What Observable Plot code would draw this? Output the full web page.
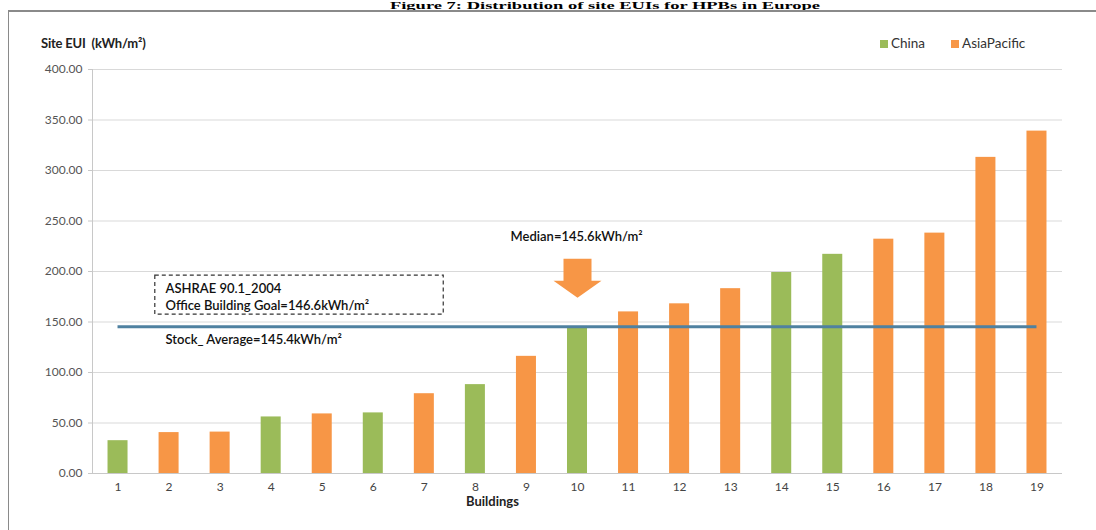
<!DOCTYPE html>
<html>
<head>
<meta charset="utf-8">
<script src="https://cdn.jsdelivr.net/npm/d3@7"></script>
<script src="https://cdn.jsdelivr.net/npm/@observablehq/plot@0.6"></script>
<style>
  html, body { margin: 0; padding: 0; background: #fff; overflow: hidden; }
  #wrap { position: relative; width: 1096px; height: 530px; overflow: hidden; font-family: Lato, "Open Sans", sans-serif; }
  #title { position: absolute; left: 0; width: 1210px; top: -5px; height: 16px; line-height: 16px; text-align: center; font-family: "Liberation Serif", "Times New Roman", serif; font-weight: bold; font-size: 18.5px; color: #000; white-space: nowrap; transform: scaleY(0.56); transform-origin: 50% 13.4px; }
  #frame { position: absolute; left: 8px; top: 10px; width: 1200px; height: 600px; border-left: 1.5px solid #8a8a8a; border-top: 2px solid #8a8a8a; }
  #ylabel { position: absolute; left: 41px; top: 35px; font-size: 13px; font-weight: bold; color: #222; letter-spacing: -0.2px; }
  #xlabel { position: absolute; left: 466px; top: 493px; font-size: 13px; font-weight: bold; color: #222; }
  #legend { position: absolute; left: 880px; top: 35px; font-size: 13.5px; color: #333; display: flex; gap: 26px; }
  #legend span.sw { display: inline-block; width: 8px; height: 8px; margin-right: 3px; vertical-align: 0px; }
  #chart { position: absolute; left: 0; top: 0; }
</style>
</head>
<body>
<div id="wrap">
  <div id="title">Figure 7: Distribution of site EUIs for HPBs in Europe</div>
  <div id="frame"></div>
  <div id="ylabel">Site EUI&nbsp; (kWh/m²)</div>
  <div id="legend"></div>
  <div id="xlabel">Buildings</div>
  <div id="chart"></div>
</div>
<script>
// ---- data ----
const buildings = [1, 2, 3, 4, 5, 6, 7, 8, 9, 10, 11, 12, 13, 14, 15, 16, 17, 18, 19];
const siteEUI = [32.5, 40.5, 41, 56, 59, 60, 79, 88, 116, 145.6, 160, 168, 183, 199, 217, 232, 238, 313, 339];
const regions = ["China", "AsiaPacific", "AsiaPacific", "China", "AsiaPacific", "China", "AsiaPacific", "China", "AsiaPacific", "China",
                 "AsiaPacific", "AsiaPacific", "AsiaPacific", "China", "China", "AsiaPacific", "AsiaPacific", "AsiaPacific", "AsiaPacific"];
const seriesNames = ["China", "AsiaPacific"];
const seriesColors = ["#9bbb59", "#f79646"];
const yTicks = [0, 50, 100, 150, 200, 250, 300, 350, 400];
const stockAverage = 145.4;
const ashraeText = "ASHRAE 90.1_2004\nOffice Building Goal=146.6kWh/m²";
const averageText = "Stock_ Average=145.4kWh/m²";
const medianText = "Median=145.6kWh/m²";

const data = buildings.map((b, i) => ({b, v: siteEUI[i], r: regions[i]}));

// legend
const legend = document.getElementById("legend");
seriesNames.forEach((n, i) => {
  const d = document.createElement("div");
  d.innerHTML = `<span class="sw" style="background:${seriesColors[i]}"></span>${n}`;
  legend.appendChild(d);
});

// custom block-arrow symbol (tip at the anchor point)
const arrowSymbol = {
  draw(ctx) {
    ctx.moveTo(0, 0);
    ctx.lineTo(-24, -17);
    ctx.lineTo(-14, -17);
    ctx.lineTo(-14, -39);
    ctx.lineTo(14, -39);
    ctx.lineTo(14, -17);
    ctx.lineTo(24, -17);
    ctx.closePath();
  }
};

const chart = Plot.plot({
  width: 1096,
  height: 530,
  marginTop: 69,
  marginBottom: 57,
  marginLeft: 92,
  marginRight: 34,
  style: {fontFamily: "Lato, 'Open Sans', sans-serif", fontSize: "12px", color: "#555", background: "transparent"},
  x: {domain: [0.5, 19.5], ticks: buildings, tickFormat: d => String(d), tickSize: 0, tickPadding: 9, label: null},
  y: {domain: [0, 400], ticks: yTicks, tickFormat: d3.format(".2f"), tickSize: 4, tickPadding: 6, label: null},
  color: {domain: seriesNames, range: seriesColors},
  marks: [
    Plot.gridY(yTicks, {stroke: "#d9d9d9", strokeOpacity: 1}),
    Plot.axisY({ticks: yTicks, tickFormat: d3.format(".2f"), tickSize: 4, tickPadding: 6, stroke: "#c8c8c8", label: null, color: "#555"}),
    Plot.axisX({ticks: buildings, tickFormat: d => String(d), tickSize: 0, tickPadding: 9, label: null, color: "#444"}),
    Plot.ruleX([0.5], {stroke: "#c8c8c8"}),
    Plot.rectY(data, {x1: d => d.b - 0.196, x2: d => d.b + 0.196, y1: 0, y2: "v", fill: "r"}),
    Plot.ruleY([0], {stroke: "#c8c8c8"}),
    Plot.ruleY([stockAverage], {x1: 1, x2: 19, stroke: "#4f81a0", strokeWidth: 3}),
    Plot.rect([0], {x1: 1.73, x2: 7.38, y1: 157.4, y2: 196, fill: "none", stroke: "#333", strokeWidth: 1.2, strokeDasharray: "4,3"}),
    Plot.text([ashraeText], {x: 1.93, y: 175.7, text: d => d, textAnchor: "start", lineHeight: 1.3, fontSize: 13, fontWeight: 600, fill: "#111"}),
    Plot.text([averageText], {x: 1.93, y: 132.7, text: d => d, textAnchor: "start", fontSize: 13, fontWeight: 600, fill: "#111"}),
    Plot.text([medianText], {x: 8.69, y: 234.7, text: d => d, textAnchor: "start", fontSize: 13, fontWeight: 600, fill: "#111"}),
    Plot.dot([0], {x: 10, y: 174, symbol: arrowSymbol, r: 10, fill: "#f79646", stroke: "none"})
  ]
});
document.getElementById("chart").appendChild(chart);
</script>
</body>
</html>
